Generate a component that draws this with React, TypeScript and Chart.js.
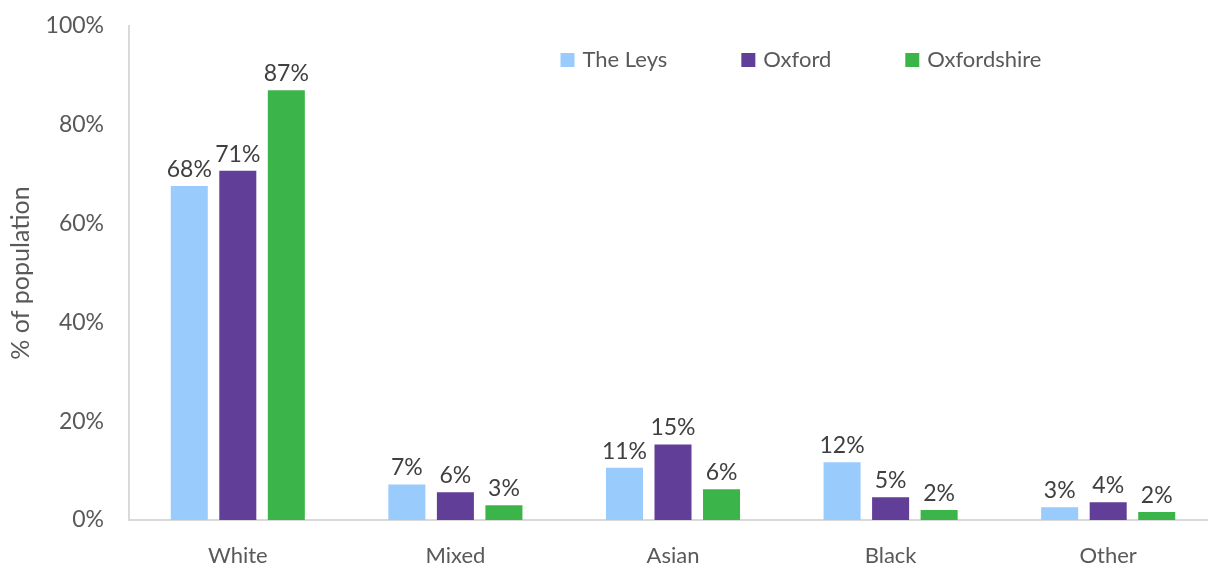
import React, { useEffect, useRef } from "react";
import { Chart, registerables } from "chart.js";

Chart.register(...registerables);

const categories = ["White", "Mixed", "Asian", "Black", "Other"];
const seriesNames = ["The Leys", "Oxford", "Oxfordshire"];
const theLeys = [67.6, 7.2, 10.6, 11.7, 2.6];
const oxford = [70.7, 5.6, 15.3, 4.6, 3.6];
const oxfordshire = [87.0, 3.0, 6.2, 2.0, 1.6];
const yTicks = [0, 20, 40, 60, 80, 100];
const colors = ["#99CBFD", "#613E97", "#3BB54A"];

const FONT = "Lato, 'Open Sans', sans-serif";
const TEXT = "#595959";

const dataLabels = {
  id: "dataLabels",
  afterDatasetsDraw(chart: any) {
    const ctx = chart.ctx;
    ctx.save();
    ctx.font = `23px ${FONT}`;
    ctx.fillStyle = "#404040";
    ctx.textAlign = "center";
    ctx.textBaseline = "alphabetic";
    chart.data.datasets.forEach((ds: any, i: number) => {
      const meta = chart.getDatasetMeta(i);
      meta.data.forEach((bar: any, j: number) => {
        const v = ds.data[j];
        ctx.fillText(Math.round(v) + "%", bar.x, bar.y - 9);
      });
    });
    ctx.restore();
  },
};

const customLegend = {
  id: "customLegend",
  afterDraw(chart: any) {
    const ctx = chart.ctx;
    ctx.save();
    ctx.font = `22px ${FONT}`;
    const box = 14;
    const gapText = 8;
    const gapItem = 74;
    const items = chart.data.datasets.map((ds: any) => ({
      label: ds.label,
      color: ds.backgroundColor,
      w: ctx.measureText(ds.label).width,
    }));
    const total =
      items.reduce((s: number, it: any) => s + box + gapText + it.w, 0) +
      gapItem * (items.length - 1);
    let x = 801 - total / 2;
    const cy = 60;
    ctx.textBaseline = "middle";
    ctx.textAlign = "left";
    items.forEach((it: any) => {
      ctx.fillStyle = it.color;
      ctx.fillRect(x, cy - box / 2, box, box);
      ctx.fillStyle = TEXT;
      ctx.fillText(it.label, x + box + gapText, cy);
      x += box + gapText + it.w + gapItem;
    });
    ctx.restore();
  },
};

export default function App() {
  const ref = useRef<HTMLCanvasElement | null>(null);
  useEffect(() => {
    if (!ref.current) return;
    const chart = new Chart(ref.current, {
      type: "bar",
      data: {
        labels: categories,
        datasets: [theLeys, oxford, oxfordshire].map((d, i) => ({
          label: seriesNames[i],
          data: d,
          backgroundColor: colors[i],
          categoryPercentage: 0.669,
          barPercentage: 0.763,
        })),
      },
      options: {
        animation: false,
        responsive: false,
        maintainAspectRatio: false,
        layout: { autoPadding: false, padding: { top: 26, left: 0, right: 0, bottom: 0 } },
        plugins: {
          legend: { display: false },
          tooltip: { enabled: false },
        },
        scales: {
          x: {
            grid: { display: false, drawTicks: false },
            border: { display: true, color: "#D9D9D9", width: 2 },
            ticks: {
              color: TEXT,
              font: { family: FONT, size: 22 },
              padding: 23,
            },
            afterFit(scale: any) {
              scale.height = 46;
              scale.paddingLeft = 0;
              scale.paddingRight = 0;
            },
          },
          y: {
            min: 0,
            max: 100,
            grid: { display: false, drawTicks: false },
            border: { display: true, color: "#D9D9D9", width: 2 },
            afterBuildTicks(scale: any) {
              scale.ticks = yTicks.map((v) => ({ value: v }));
            },
            ticks: {
              color: TEXT,
              font: { family: FONT, size: 23 },
              padding: 25,
              callback: (v: any) => v + "%",
            },
            title: {
              display: true,
              text: "% of population",
              color: TEXT,
              font: { family: FONT, size: 25 },
              padding: { top: 6, bottom: 0 },
            },
            afterFit(scale: any) {
              scale.width = 129;
              scale.paddingTop = 0;
              scale.paddingBottom = 0;
            },
          },
        },
      },
      plugins: [dataLabels, customLegend],
    });
    return () => chart.destroy();
  }, []);
  return (
    <div style={{ position: "fixed", left: 0, top: 0, width: 1217, height: 566, background: "#fff" }}>
      <canvas ref={ref} width={1217} height={566} style={{ display: "block" }} />
    </div>
  );
}
